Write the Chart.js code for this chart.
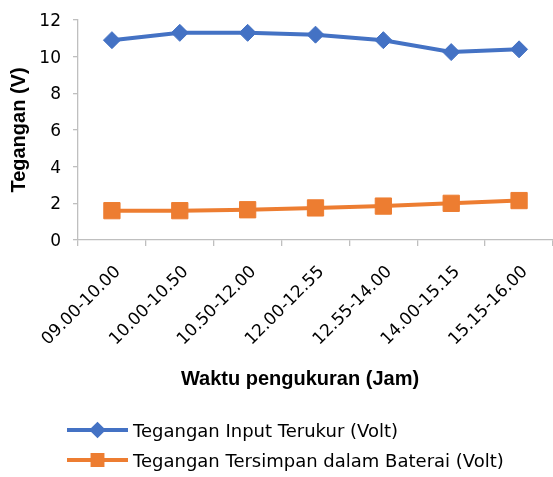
<!DOCTYPE html>
<html><head><meta charset="utf-8">
<script src="https://cdn.jsdelivr.net/npm/chart.js@4.4.1/dist/chart.umd.min.js"></script>
<style>html,body{margin:0;padding:0;background:#fff}#wrap{width:553px;height:477px;position:relative}</style>
</head><body><div id="wrap"><canvas id="c" width="553" height="477"></canvas></div>
<script>
const categories = ['09.00-10.00','10.00-10.50','10.50-12.00','12.00-12.55','12.55-14.00','14.00-15.15','15.15-16.00'];
const inputVolt = [10.9, 11.3, 11.3, 11.2, 10.9, 10.25, 10.4];
const batteryVolt = [1.6, 1.6, 1.65, 1.75, 1.85, 2.0, 2.15];
const yTickValues = [0, 2, 4, 6, 8, 10, 12];
const seriesNames = ['Tegangan Input Terukur (Volt)', 'Tegangan Tersimpan dalam Baterai (Volt)'];
const axisTitles = { x: 'Waktu pengukuran (Jam)', y: 'Tegangan (V)' };

const BLUE = '#4472C4', ORANGE = '#ED7D31', AXIS = '#BFBFBF';
const TITLE_FONT = 'bold 20px "Liberation Sans", Arial, sans-serif';
Chart.defaults.color = '#000';
Chart.defaults.font.family = '"DejaVu Sans", sans-serif';

const legendPlugin = {
  id: 'customLegend',
  afterDraw(chart) {
    const ctx = chart.ctx;
    // x-axis title (Excel places it slightly left of plot centre)
    ctx.save();
    ctx.fillStyle = '#000';
    ctx.font = TITLE_FONT;
    ctx.textAlign = 'center';
    ctx.textBaseline = 'middle';
    ctx.fillText(axisTitles.x, 300, 379);
    ctx.restore();
    const rows = [430, 460];
    chart.data.datasets.forEach((ds, i) => {
      const y = rows[i];
      ctx.save();
      ctx.strokeStyle = ds.borderColor; ctx.lineWidth = 4;
      ctx.beginPath(); ctx.moveTo(67, y); ctx.lineTo(128, y); ctx.stroke();
      ctx.fillStyle = ds.borderColor; ctx.strokeStyle = ds.borderColor;
      Chart.helpers.drawPoint(ctx, { pointStyle: ds.pointStyle, radius: ds.pointStyle === 'rect' ? 7 : 5.5, borderWidth: 1, rotation: 0 }, 97.5, y);
      ctx.fillStyle = '#000';
      ctx.font = '18px "DejaVu Sans"';
      ctx.textBaseline = 'middle';
      ctx.fillText(ds.label, 133, y + 2);
      ctx.restore();
    });
  }
};

new Chart(document.getElementById('c'), {
  type: 'line',
  data: {
    labels: categories,
    datasets: [
      { label: seriesNames[0], data: inputVolt, borderColor: BLUE, backgroundColor: BLUE, borderWidth: 4,
        pointStyle: 'rectRot', pointRadius: 8.5, pointBorderWidth: 1, tension: 0 },
      { label: seriesNames[1], data: batteryVolt, borderColor: ORANGE, backgroundColor: ORANGE, borderWidth: 4,
        pointStyle: 'rect', pointRadius: 11.5, pointBorderWidth: 1, tension: 0 }
    ]
  },
  options: {
    responsive: false,
    animation: false,
    layout: { autoPadding: false, padding: { left: 3, right: -2, top: 20, bottom: 82 } },
    plugins: { legend: { display: false }, tooltip: { enabled: false } },
    scales: {
      x: {
        offset: true,
        grid: { offset: true, drawOnChartArea: false, drawTicks: true, tickLength: 6, color: AXIS, lineWidth: 1.3 },
        border: { color: AXIS, width: 1.3 },
        ticks: { minRotation: 45, maxRotation: 45, autoSkip: false, padding: 16, labelOffset: 6,
                 font: { size: 17 } },
        title: { display: false, text: axisTitles.x },
        afterFit(scale) { scale.height = 155; scale.paddingRight = 0; scale.paddingLeft = 0; }
      },
      y: {
        min: 0, max: 12,
        afterBuildTicks(scale) { scale.ticks = yTickValues.map(v => ({ value: v })); },
        grid: { drawOnChartArea: false, drawTicks: true, tickLength: 5, color: AXIS, lineWidth: 1.3 },
        border: { color: AXIS, width: 1.3 },
        ticks: { padding: 12, labelOffset: 1.5, font: { size: 17 } },
        title: { display: true, text: axisTitles.y, padding: 4,
                 font: { family: '"Liberation Sans", Arial, sans-serif', size: 20, weight: 'bold' } },
        afterFit(scale) { scale.width = 75; scale.paddingTop = 0; scale.paddingBottom = 0; }
      }
    }
  },
  plugins: [legendPlugin]
});
</script></body></html>
